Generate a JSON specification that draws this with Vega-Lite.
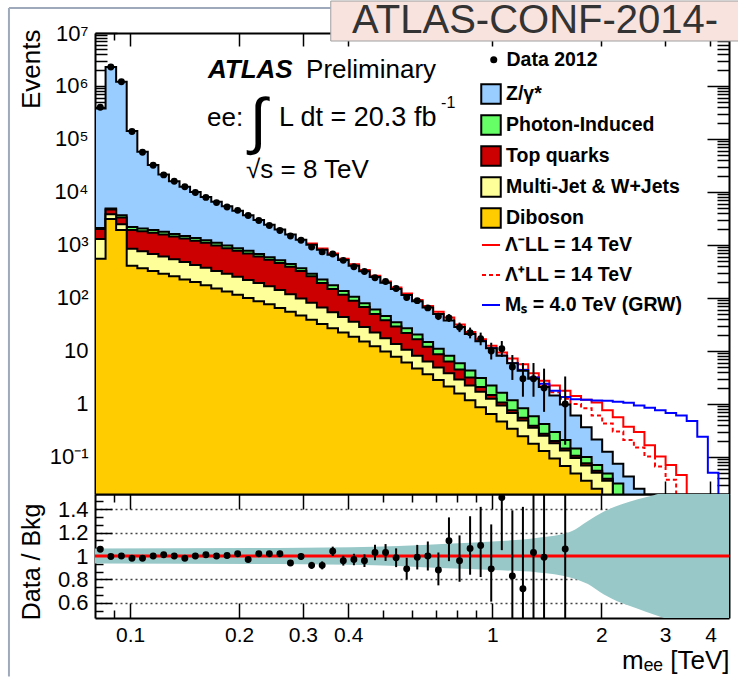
{
  "$schema": "https://vega.github.io/schema/vega-lite/v6.json",
  "padding": {"left": 7, "top": 0, "right": 0, "bottom": 0},
  "background": "white",
  "spacing": 0,
  "bounds": "flush",
  "config": {
    "font": "Liberation Sans",
    "view": {"stroke": null},
    "axis": {
      "zindex": 1, "domainColor": "black", "domainWidth": 2, "tickColor": "black", "tickWidth": 1.5,
      "labelColor": "black", "labelFont": "Liberation Sans", "labelFontSize": 22,
      "titleFont": "Liberation Sans", "titleFontWeight": "normal", "titleColor": "black", "titleFontSize": 26,
      "grid": false, "labelOverlap": false, "labelFlush": false, "labelBound": false
    },
    "legend": {"labelFont": "Liberation Sans", "labelFontSize": 19.5, "labelFontWeight": "bold", "labelColor": "black", "padding": 0, "labelLimit": 400}
  },
  "datasets": {
    "bins": [
      {"lo":0.08,"c":0.08273,"B":375000,"G":2090,"R":2000,"Y":1290,"O":550,"n":396000,"nlo":395400,"nhi":396600,"r":1.057,"rlo":1.055,"rhi":1.059},
      {"lo":0.08556,"c":0.08848,"B":2290000,"G":4900,"R":4680,"Y":3800,"O":3090,"n":2280000,"nlo":2278500,"nhi":2281500,"r":0.995,"rlo":0.994,"rhi":0.996},
      {"lo":0.0915,"c":0.09463,"B":1200000,"G":3630,"R":3310,"Y":2450,"O":1910,"n":1200000,"nlo":1198900,"nhi":1201100,"r":1.0,"rlo":0.999,"rhi":1.001},
      {"lo":0.09786,"c":0.1012,"B":141000,"G":2190,"R":1910,"Y":851,"O":407,"n":139000,"nlo":138600,"nhi":139400,"r":0.98,"rlo":0.977,"rhi":0.983},
      {"lo":0.1047,"c":0.1082,"B":57500,"G":2040,"R":1820,"Y":759,"O":363,"n":56000,"nlo":55760,"nhi":56240,"r":0.98,"rlo":0.976,"rhi":0.984},
      {"lo":0.1119,"c":0.1158,"B":32400,"G":1910,"R":1700,"Y":676,"O":324,"n":32000,"nlo":31820,"nhi":32180,"r":1.0,"rlo":0.994,"rhi":1.006},
      {"lo":0.1197,"c":0.1238,"B":21400,"G":1780,"R":1580,"Y":603,"O":288,"n":21000,"nlo":20855,"nhi":21145,"r":1.01,"rlo":1.003,"rhi":1.017},
      {"lo":0.128,"c":0.1324,"B":16000,"G":1620,"R":1450,"Y":537,"O":257,"n":16000,"nlo":15874,"nhi":16126,"r":1.0,"rlo":0.992,"rhi":1.008},
      {"lo":0.1369,"c":0.1416,"B":12600,"G":1480,"R":1320,"Y":479,"O":224,"n":12600,"nlo":12488,"nhi":12712,"r":0.98,"rlo":0.971,"rhi":0.989},
      {"lo":0.1464,"c":0.1514,"B":10000,"G":1350,"R":1200,"Y":417,"O":200,"n":9800,"nlo":9701,"nhi":9899,"r":1.0,"rlo":0.99,"rhi":1.01},
      {"lo":0.1566,"c":0.1619,"B":8040,"G":1230,"R":1100,"Y":372,"O":174,"n":7900,"nlo":7811,"nhi":7989,"r":1.01,"rlo":0.999,"rhi":1.021},
      {"lo":0.1675,"c":0.1732,"B":6530,"G":1100,"R":977,"Y":324,"O":151,"n":6300,"nlo":6221,"nhi":6379,"r":1.0,"rlo":0.987,"rhi":1.013},
      {"lo":0.1791,"c":0.1852,"B":5370,"G":977,"R":871,"Y":288,"O":132,"n":5200,"nlo":5128,"nhi":5272,"r":1.005,"rlo":0.991,"rhi":1.019},
      {"lo":0.1915,"c":0.1981,"B":4420,"G":871,"R":776,"Y":251,"O":115,"n":4500,"nlo":4433,"nhi":4567,"r":1.02,"rlo":1.005,"rhi":1.035},
      {"lo":0.2049,"c":0.2118,"B":3630,"G":776,"R":692,"Y":219,"O":100,"n":3600,"nlo":3540,"nhi":3660,"r":0.97,"rlo":0.954,"rhi":0.986},
      {"lo":0.2191,"c":0.2266,"B":2950,"G":676,"R":603,"Y":191,"O":87.1,"n":2900,"nlo":2846,"nhi":2954,"r":1.02,"rlo":1.001,"rhi":1.039},
      {"lo":0.2343,"c":0.2423,"B":2400,"G":589,"R":525,"Y":166,"O":75.9,"n":2340,"nlo":2292,"nhi":2388,"r":1.02,"rlo":0.999,"rhi":1.041},
      {"lo":0.2506,"c":0.2591,"B":1950,"G":513,"R":457,"Y":141,"O":64.6,"n":1880,"nlo":1837,"nhi":1923,"r":1.02,"rlo":0.996,"rhi":1.044},
      {"lo":0.268,"c":0.2771,"B":1570,"G":437,"R":389,"Y":117,"O":55.0,"n":1480,"nlo":1442,"nhi":1518,"r":0.94,"rlo":0.916,"rhi":0.964},
      {"lo":0.2866,"c":0.2964,"B":1260,"G":363,"R":324,"Y":97.7,"O":46.8,"n":1230,"nlo":1195,"nhi":1265,"r":0.995,"rlo":0.967,"rhi":1.023},
      {"lo":0.3065,"c":0.317,"B":1010,"G":288,"R":257,"Y":81.3,"O":38.9,"lm":1070,"n":912,"nlo":882,"nhi":942,"r":0.92,"rlo":0.89,"rhi":0.95},
      {"lo":0.3278,"c":0.339,"B":813,"G":224,"R":191,"Y":66.1,"O":32.4,"lm":862,"n":741,"nlo":714,"nhi":768,"r":0.92,"rlo":0.886,"rhi":0.954},
      {"lo":0.3506,"c":0.3625,"B":653,"G":174,"R":148,"Y":53.7,"O":26.9,"lm":692,"n":676,"nlo":650,"nhi":702,"r":1.04,"rlo":1.0,"rhi":1.08},
      {"lo":0.3749,"c":0.3877,"B":519,"G":135,"R":115,"Y":43.7,"O":22.4,"lm":550,"n":513,"nlo":490,"nhi":536,"r":0.96,"rlo":0.918,"rhi":1.002},
      {"lo":0.401,"c":0.4147,"B":407,"G":105,"R":89.1,"Y":35.5,"O":18.6,"lm":431,"n":389,"nlo":369,"nhi":409,"r":0.97,"rlo":0.921,"rhi":1.019},
      {"lo":0.4288,"c":0.4435,"B":320,"G":79.4,"R":67.6,"Y":28.2,"O":15.1,"lm":339,"n":316,"nlo":298,"nhi":334,"r":0.96,"rlo":0.906,"rhi":1.014},
      {"lo":0.4586,"c":0.4743,"B":248,"G":60.3,"R":50.1,"Y":22.4,"O":12.3,"lm":263,"n":240,"nlo":224.5,"nhi":255.5,"r":1.03,"rlo":0.964,"rhi":1.096},
      {"lo":0.4905,"c":0.5072,"B":193,"G":45.7,"R":38.0,"Y":17.4,"O":9.77,"lm":205,"n":204,"nlo":189.7,"nhi":218.3,"r":1.03,"rlo":0.958,"rhi":1.102},
      {"lo":0.5246,"c":0.5424,"B":148,"G":34.7,"R":28.8,"Y":13.5,"O":7.76,"lm":157,"n":151,"nlo":138.7,"nhi":163.3,"r":0.985,"rlo":0.905,"rhi":1.065},
      {"lo":0.561,"c":0.5801,"B":114,"G":26.9,"R":21.9,"Y":10.5,"O":6.03,"lm":121,"n":102,"nlo":91.9,"nhi":112.1,"r":0.89,"rlo":0.80,"rhi":0.985},
      {"lo":0.6,"c":0.6204,"B":87.1,"G":20.4,"R":16.6,"Y":8.13,"O":4.68,"lm":91.2,"n":89,"nlo":79.6,"nhi":98.4,"r":0.99,"rlo":0.885,"rhi":1.095},
      {"lo":0.6416,"c":0.6635,"B":66.1,"G":14.8,"R":12.0,"Y":6.31,"O":3.63,"lm":70.8,"n":65,"nlo":56.9,"nhi":73.1,"r":1.0,"rlo":0.876,"rhi":1.124},
      {"lo":0.6862,"c":0.7096,"B":50.1,"G":11.0,"R":8.71,"Y":4.90,"O":2.82,"lm":55.0,"n":45,"nlo":38.3,"nhi":52.7,"r":0.88,"rlo":0.749,"rhi":1.03},
      {"lo":0.7339,"c":0.7589,"B":37.6,"G":8.13,"R":6.31,"Y":3.80,"O":2.14,"lm":42.7,"n":42,"nlo":35.5,"nhi":49.5,"r":1.13,"rlo":0.956,"rhi":1.33},
      {"lo":0.7849,"c":0.8117,"B":28.2,"G":5.89,"R":4.47,"Y":2.88,"O":1.58,"lm":31.6,"n":28,"nlo":22.7,"nhi":34.3,"r":0.96,"rlo":0.78,"rhi":1.176},
      {"lo":0.8394,"c":0.868,"B":20.9,"G":4.27,"R":3.16,"Y":2.24,"O":1.17,"lm":22.9,"n":22,"nlo":17.3,"nhi":27.6,"r":1.065,"rlo":0.84,"rhi":1.34},
      {"lo":0.8977,"c":0.9283,"B":15.3,"G":3.09,"R":2.09,"Y":1.70,"O":0.871,"lm":16.6,"lp":15.3,"ms":15.3,"n":17,"nlo":12.8,"nhi":22.2,"r":1.09,"rlo":0.82,"rhi":1.42},
      {"lo":0.9601,"c":0.9928,"B":11.2,"G":2.24,"R":1.48,"Y":1.26,"O":0.646,"lm":12.6,"lp":11.2,"ms":11.2,"n":10,"nlo":6.9,"nhi":14.3,"r":0.89,"rlo":0.61,"rhi":1.27},
      {"lo":1.0268,"c":1.0618,"B":8.13,"G":1.62,"R":1.07,"Y":0.933,"O":0.468,"lm":9.33,"lp":8.13,"ms":8.13,"n":11,"nlo":7.7,"nhi":15.4,"r":1.5,"rlo":1.05,"rhi":2.1},
      {"lo":1.0981,"c":1.1355,"B":5.89,"G":1.17,"R":0.759,"Y":0.676,"O":0.339,"lm":7.24,"lp":5.89,"ms":5.89,"n":5,"nlo":2.84,"nhi":8.38,"r":0.83,"rlo":0.47,"rhi":1.39},
      {"lo":1.1744,"c":1.2144,"B":4.22,"G":0.832,"R":0.55,"Y":0.49,"O":0.245,"lm":5.62,"lp":4.42,"ms":4.37,"n":3,"nlo":1.37,"nhi":5.92,"r":0.72,"rlo":0.33,"rhi":1.42},
      {"lo":1.2559,"c":1.2988,"B":2.99,"G":0.589,"R":0.389,"Y":0.355,"O":0.178,"lm":3.80,"lp":3.16,"ms":3.16,"n":3,"nlo":1.37,"nhi":5.92,"r":1.03,"rlo":0.47,"rhi":2.03},
      {"lo":1.3432,"c":1.389,"B":2.09,"G":0.417,"R":0.275,"Y":0.251,"O":0.129,"lm":2.75,"lp":2.29,"ms":2.40,"n":2,"nlo":0.71,"nhi":4.64,"r":0.99,"rlo":0.35,"rhi":2.3},
      {"lo":1.4365,"c":1.4855,"B":1.45,"G":0.295,"R":0.2,"Y":0.182,"O":0.0933,"lm":2.24,"lp":1.66,"ms":1.78},
      {"lo":1.5363,"c":1.5887,"B":0.977,"G":0.209,"R":0.145,"Y":0.132,"O":0.0676,"lm":1.78,"lp":1.26,"ms":1.35,"n":1,"nlo":0.17,"nhi":3.3,"r":1.06,"rlo":0.18,"rhi":3.5},
      {"lo":1.643,"B":0.603,"G":0.145,"R":0.105,"Y":0.0955,"O":0.049,"lm":1.41,"lp":1.0,"ms":1.23},
      {"lo":1.7572,"B":0.363,"G":0.1,"R":0.0759,"Y":0.0692,"O":0.0355,"lm":1.2,"lp":0.832,"ms":1.2},
      {"lo":1.8792,"B":0.214,"G":0.0708,"R":0.055,"Y":0.0501,"O":0.0251,"lm":1.07,"lp":0.603,"ms":1.16},
      {"lo":2.0098,"B":0.126,"G":0.049,"R":0.0389,"Y":0.0355,"O":0.001,"lm":0.759,"lp":0.427,"ms":1.15},
      {"lo":2.1494,"B":0.0741,"G":0.0316,"R":0.001,"Y":0.001,"O":0.001,"lm":0.562,"lp":0.302,"ms":1.1},
      {"lo":2.2987,"B":0.0427,"G":0.001,"R":0.001,"Y":0.001,"O":0.001,"lm":0.372,"lp":0.209,"ms":1.05},
      {"lo":2.4584,"B":0.0251,"G":0.001,"R":0.001,"Y":0.001,"O":0.001,"lm":0.295,"lp":0.151,"ms":0.933},
      {"lo":2.6292,"B":0.001,"G":0.001,"R":0.001,"Y":0.001,"O":0.001,"lm":0.166,"lp":0.102,"ms":0.851},
      {"lo":2.8118,"B":0.001,"G":0.001,"R":0.001,"Y":0.001,"O":0.001,"lm":0.102,"lp":0.0661,"ms":0.759},
      {"lo":3.0072,"B":0.001,"G":0.001,"R":0.001,"Y":0.001,"O":0.001,"lm":0.0708,"lp":0.0372,"ms":0.676},
      {"lo":3.2161,"B":0.001,"G":0.001,"R":0.001,"Y":0.001,"O":0.001,"lm":0.0457,"lp":0.001,"ms":0.603},
      {"lo":3.4394,"B":0.001,"G":0.001,"R":0.001,"Y":0.001,"O":0.001,"lm":0.001,"lp":0.001,"ms":0.479},
      {"lo":3.6784,"B":0.001,"G":0.001,"R":0.001,"Y":0.001,"O":0.001,"lm":0.001,"lp":0.001,"ms":0.24},
      {"lo":3.9339,"B":0.001,"G":0.001,"R":0.001,"Y":0.001,"O":0.001,"lm":0.001,"lp":0.001,"ms":0.0501},
      {"lo":4.2072,"B":0.001,"G":0.001,"R":0.001,"Y":0.001,"O":0.001,"lm":0.001,"lp":0.001,"ms":0.001}
    ],
    "band": [
      {"m":0.08,"lo":0.935,"hi":1.065},
      {"m":0.3,"lo":0.93,"hi":1.07},
      {"m":0.55,"lo":0.915,"hi":1.085},
      {"m":0.75,"lo":0.895,"hi":1.105},
      {"m":1.0,"lo":0.88,"hi":1.125},
      {"m":1.336,"lo":0.86,"hi":1.155},
      {"m":1.648,"lo":0.815,"hi":1.21},
      {"m":1.836,"lo":0.76,"hi":1.3},
      {"m":2.032,"lo":0.67,"hi":1.38},
      {"m":2.264,"lo":0.6,"hi":1.44},
      {"m":2.52,"lo":0.55,"hi":1.485},
      {"m":2.79,"lo":0.5,"hi":1.52},
      {"m":3.01,"lo":0.465,"hi":1.55},
      {"m":3.5,"lo":0.4,"hi":1.62},
      {"m":4.5,"lo":0.3,"hi":1.75}
    ]
  },
  "vconcat": [
    {
      "width": 634,
      "height": 461,
      "resolve": {"axis": {"x": "independent", "y": "independent"}},
      "layer": [
        {
          "data": {"name": "bins"},
          "transform": [{"fold": ["lm", "lp", "ms"], "as": ["sig", "v"]}],
          "mark": {"type": "line", "interpolate": "step-after", "strokeWidth": 2, "clip": true},
          "encoding": {
            "x": {"field": "lo", "type": "quantitative", "scale": {"type": "log", "domain": [0.08, 4.5], "nice": false}, "axis": null},
            "y": {"field": "v", "type": "quantitative", "scale": {"type": "log", "domain": [0.02, 10000000], "nice": false}, "axis": null},
            "stroke": {"field": "sig", "type": "nominal", "scale": {"domain": ["lm", "lp", "ms"], "range": ["#ff0000", "#ff0000", "#0000ff"]},
              "legend": {"orient": "none", "legendX": 386, "legendY": 202, "title": null, "symbolType": "stroke", "symbolSize": 324, "symbolStrokeWidth": 2, "rowPadding": 10, "labelOffset": 4,
                "labelExpr": "datum.value == 'lm' ? 'Λ⁻LL = 14 TeV' : datum.value == 'lp' ? 'Λ⁺LL = 14 TeV' : 'Mₛ = 4.0 TeV (GRW)'"}},
            "strokeDash": {"field": "sig", "type": "nominal", "scale": {"domain": ["lm", "lp", "ms"], "range": [[1, 0], [4, 3], [1, 0]]},
              "legend": {"orient": "none", "legendX": 386, "legendY": 202, "title": null, "symbolType": "stroke", "symbolSize": 324, "symbolStrokeWidth": 2, "rowPadding": 10, "labelOffset": 4,
                "labelExpr": "datum.value == 'lm' ? 'Λ⁻LL = 14 TeV' : datum.value == 'lp' ? 'Λ⁺LL = 14 TeV' : 'Mₛ = 4.0 TeV (GRW)'"}}
          }
        },
        {
          "data": {"name": "bins"},
          "mark": {"type": "area", "interpolate": "step-after", "stroke": "black", "strokeWidth": 2, "clip": true},
          "encoding": {
            "x": {"field": "lo", "type": "quantitative", "scale": {"type": "log", "domain": [0.08, 4.5], "nice": false},
              "axis": {"orient": "bottom", "values": [0.09,0.1,0.2,0.3,0.4,0.5,0.6,0.7,0.8,0.9,1,2,3,4], "labels": false, "title": null,
                "tickSize": {"condition": {"test": "indexof([0.1,0.2,0.3,0.4,1,2,3,4], datum.value) >= 0", "value": -13}, "value": -7}}},
            "y": {"field": "B", "type": "quantitative", "scale": {"type": "log", "domain": [0.02, 10000000], "nice": false},
              "axis": {"orient": "left",
                "values": [0.03,0.04,0.05,0.06,0.07,0.08,0.09,0.1,0.2,0.3,0.4,0.5,0.6,0.7,0.8,0.9,1,2,3,4,5,6,7,8,9,10,20,30,40,50,60,70,80,90,100,200,300,400,500,600,700,800,900,1000,2000,3000,4000,5000,6000,7000,8000,9000,10000,20000,30000,40000,50000,60000,70000,80000,90000,100000,200000,300000,400000,500000,600000,700000,800000,900000,1000000,2000000,3000000,4000000,5000000,6000000,7000000,8000000,9000000,10000000],
                "labelExpr": "datum.value == 0.1 ? '10⁻¹' : datum.value == 1 ? '1' : datum.value == 10 ? '10' : datum.value == 100 ? '10²' : datum.value == 1000 ? '10³' : datum.value == 10000 ? '10⁴' : datum.value == 100000 ? '10⁵' : datum.value == 1000000 ? '10⁶' : datum.value == 10000000 ? '10⁷' : ''",
                "tickSize": {"condition": {"test": "indexof([0.1,1,10,100,1000,10000,100000,1000000,10000000], datum.value) >= 0", "value": -22}, "value": -12},
                "labelPadding": 29,
                "title": "Events", "titleAngle": -90, "titleX": -51, "titleY": -4, "titleAlign": "right", "titleBaseline": "bottom"}},
            "y2": {"datum": 0.0001},
            "fill": {"datum": "Z/γ*", "type": "nominal",
              "scale": {"domain": ["Z/γ*", "Photon-Induced", "Top quarks", "Multi-Jet & W+Jets", "Diboson"], "range": ["#99ccff", "#66ff66", "#cc0000", "#ffff99", "#ffcc00"]},
              "legend": {"orient": "none", "legendX": 385, "legendY": 50, "title": null, "symbolType": "square", "symbolSize": 380, "symbolStrokeColor": "black", "symbolStrokeWidth": 2, "rowPadding": 3, "labelOffset": 4}}
          }
        },
        {
          "data": {"name": "bins"},
          "mark": {"type": "area", "interpolate": "step-after", "stroke": "black", "strokeWidth": 2, "clip": true},
          "encoding": {
            "x": {"field": "lo", "type": "quantitative", "scale": {"type": "log", "domain": [0.08, 4.5], "nice": false},
              "axis": {"orient": "top", "values": [0.09,0.1,0.2,0.3,0.4,0.5,0.6,0.7,0.8,0.9,1,2,3,4], "labels": false, "title": null,
                "tickSize": {"condition": {"test": "indexof([0.1,0.2,0.3,0.4,1,2,3,4], datum.value) >= 0", "value": -13}, "value": -7}}},
            "y": {"field": "G", "type": "quantitative", "scale": {"type": "log", "domain": [0.02, 10000000], "nice": false},
              "axis": {"orient": "right",
                "values": [0.03,0.04,0.05,0.06,0.07,0.08,0.09,0.1,0.2,0.3,0.4,0.5,0.6,0.7,0.8,0.9,1,2,3,4,5,6,7,8,9,10,20,30,40,50,60,70,80,90,100,200,300,400,500,600,700,800,900,1000,2000,3000,4000,5000,6000,7000,8000,9000,10000,20000,30000,40000,50000,60000,70000,80000,90000,100000,200000,300000,400000,500000,600000,700000,800000,900000,1000000,2000000,3000000,4000000,5000000,6000000,7000000,8000000,9000000,10000000],
                "labels": false, "title": null,
                "tickSize": {"condition": {"test": "indexof([0.1,1,10,100,1000,10000,100000,1000000,10000000], datum.value) >= 0", "value": -22}, "value": -12}}},
            "y2": {"datum": 0.0001},
            "fill": {"datum": "Photon-Induced", "type": "nominal"}
          }
        },
        {
          "data": {"name": "bins"},
          "mark": {"type": "area", "interpolate": "step-after", "stroke": "black", "strokeWidth": 2, "clip": true},
          "encoding": {
            "x": {"field": "lo", "type": "quantitative", "scale": {"type": "log", "domain": [0.08, 4.5], "nice": false}, "axis": null},
            "y": {"field": "R", "type": "quantitative", "scale": {"type": "log", "domain": [0.02, 10000000], "nice": false}, "axis": null},
            "y2": {"datum": 0.0001},
            "fill": {"datum": "Top quarks", "type": "nominal"}
          }
        },
        {
          "data": {"name": "bins"},
          "mark": {"type": "area", "interpolate": "step-after", "stroke": "black", "strokeWidth": 2, "clip": true},
          "encoding": {
            "x": {"field": "lo", "type": "quantitative", "scale": {"type": "log", "domain": [0.08, 4.5], "nice": false}, "axis": null},
            "y": {"field": "Y", "type": "quantitative", "scale": {"type": "log", "domain": [0.02, 10000000], "nice": false}, "axis": null},
            "y2": {"datum": 0.0001},
            "fill": {"datum": "Multi-Jet & W+Jets", "type": "nominal"}
          }
        },
        {
          "data": {"name": "bins"},
          "mark": {"type": "area", "interpolate": "step-after", "stroke": "black", "strokeWidth": 2, "clip": true},
          "encoding": {
            "x": {"field": "lo", "type": "quantitative", "scale": {"type": "log", "domain": [0.08, 4.5], "nice": false}, "axis": null},
            "y": {"field": "O", "type": "quantitative", "scale": {"type": "log", "domain": [0.02, 10000000], "nice": false}, "axis": null},
            "y2": {"datum": 0.0001},
            "fill": {"datum": "Diboson", "type": "nominal"}
          }
        },
        {
          "data": {"name": "bins"},
          "mark": {"type": "rule", "color": "black", "strokeWidth": 2, "clip": true},
          "encoding": {
            "x": {"field": "c", "type": "quantitative", "scale": {"type": "log", "domain": [0.08, 4.5], "nice": false}, "axis": null},
            "y": {"field": "nlo", "type": "quantitative", "scale": {"type": "log", "domain": [0.02, 10000000], "nice": false}, "axis": null},
            "y2": {"field": "nhi"}
          }
        },
        {
          "data": {"name": "bins"},
          "mark": {"type": "point", "filled": true, "size": 48, "opacity": 1, "color": "black", "clip": true},
          "encoding": {
            "x": {"field": "c", "type": "quantitative", "scale": {"type": "log", "domain": [0.08, 4.5], "nice": false}, "axis": null},
            "y": {"field": "n", "type": "quantitative", "scale": {"type": "log", "domain": [0.02, 10000000], "nice": false}, "axis": null},
            "shape": {"datum": "Data 2012", "type": "nominal", "scale": {"domain": ["Data 2012"], "range": ["circle"]},
              "legend": {"orient": "none", "legendX": 389, "legendY": 17, "title": null, "symbolSize": 50, "symbolFillColor": "black", "symbolStrokeColor": "black", "labelOffset": 3}}
          }
        },
        {
          "data": {"values": [{}]},
          "mark": {"type": "text", "text": "ATLAS", "align": "left", "baseline": "alphabetic", "fontSize": 26, "fontStyle": "italic", "fontWeight": "bold", "color": "black"},
          "encoding": {
            "x": {"datum": 0.164, "type": "quantitative", "scale": {"type": "log", "domain": [0.08, 4.5], "nice": false}, "axis": null},
            "y": {"datum": 1420000, "type": "quantitative", "scale": {"type": "log", "domain": [0.02, 10000000], "nice": false}, "axis": null}
          }
        },
        {
          "data": {"values": [{}]},
          "mark": {"type": "text", "text": "Preliminary", "align": "left", "baseline": "alphabetic", "fontSize": 26, "color": "black"},
          "encoding": {
            "x": {"datum": 0.306, "type": "quantitative", "scale": {"type": "log", "domain": [0.08, 4.5], "nice": false}, "axis": null},
            "y": {"datum": 1420000, "type": "quantitative", "scale": {"type": "log", "domain": [0.02, 10000000], "nice": false}, "axis": null}
          }
        },
        {
          "data": {"values": [{}]},
          "mark": {"type": "text", "text": "ee:", "align": "left", "baseline": "alphabetic", "fontSize": 26, "color": "black"},
          "encoding": {
            "x": {"datum": 0.163, "type": "quantitative", "scale": {"type": "log", "domain": [0.08, 4.5], "nice": false}, "axis": null},
            "y": {"datum": 177000, "type": "quantitative", "scale": {"type": "log", "domain": [0.02, 10000000], "nice": false}, "axis": null}
          }
        },
        {
          "data": {"values": [{}]},
          "mark": {"type": "text", "text": "∫", "align": "center", "baseline": "middle", "fontSize": 62, "color": "black"},
          "encoding": {
            "x": {"datum": 0.2254, "type": "quantitative", "scale": {"type": "log", "domain": [0.08, 4.5], "nice": false}, "axis": null},
            "y": {"datum": 200000, "type": "quantitative", "scale": {"type": "log", "domain": [0.02, 10000000], "nice": false}, "axis": null}
          }
        },
        {
          "data": {"values": [{}]},
          "mark": {"type": "text", "text": "L dt = 20.3 fb", "align": "left", "baseline": "alphabetic", "fontSize": 27, "color": "black"},
          "encoding": {
            "x": {"datum": 0.2577, "type": "quantitative", "scale": {"type": "log", "domain": [0.08, 4.5], "nice": false}, "axis": null},
            "y": {"datum": 177000, "type": "quantitative", "scale": {"type": "log", "domain": [0.02, 10000000], "nice": false}, "axis": null}
          }
        },
        {
          "data": {"values": [{}]},
          "mark": {"type": "text", "text": "-1", "align": "left", "baseline": "alphabetic", "fontSize": 16, "color": "black"},
          "encoding": {
            "x": {"datum": 0.722, "type": "quantitative", "scale": {"type": "log", "domain": [0.08, 4.5], "nice": false}, "axis": null},
            "y": {"datum": 387000, "type": "quantitative", "scale": {"type": "log", "domain": [0.02, 10000000], "nice": false}, "axis": null}
          }
        },
        {
          "data": {"values": [{}]},
          "mark": {"type": "text", "text": "√s = 8 TeV", "align": "left", "baseline": "alphabetic", "fontSize": 26, "color": "black"},
          "encoding": {
            "x": {"datum": 0.2089, "type": "quantitative", "scale": {"type": "log", "domain": [0.08, 4.5], "nice": false}, "axis": null},
            "y": {"datum": 18600, "type": "quantitative", "scale": {"type": "log", "domain": [0.02, 10000000], "nice": false}, "axis": null}
          }
        },
        {
          "data": {"values": [{}]},
          "mark": {"type": "rect", "fill": "#f8e3df", "stroke": "#a0a0a0", "strokeWidth": 1, "clip": false},
          "encoding": {
            "x": {"datum": 0.358, "type": "quantitative", "scale": {"type": "log", "domain": [0.08, 4.5], "nice": false}, "axis": null},
            "x2": {"datum": 4.79},
            "y": {"datum": 40100000, "type": "quantitative", "scale": {"type": "log", "domain": [0.02, 10000000], "nice": false}, "axis": null},
            "y2": {"datum": 7060000}
          }
        },
        {
          "data": {"values": [{}]},
          "mark": {"type": "text", "text": "ATLAS-CONF-2014-", "align": "left", "baseline": "alphabetic", "fontSize": 40, "color": "#333333"},
          "encoding": {
            "x": {"datum": 0.41, "type": "quantitative", "scale": {"type": "log", "domain": [0.08, 4.5], "nice": false}, "axis": null},
            "y": {"datum": 10200000, "type": "quantitative", "scale": {"type": "log", "domain": [0.02, 10000000], "nice": false}, "axis": null}
          }
        },
        {
          "data": {"values": [{}]},
          "mark": {"type": "rule", "color": "#9eaabb", "strokeWidth": 2, "clip": false},
          "encoding": {
            "x": {"datum": 0.0463, "type": "quantitative", "scale": {"type": "log", "domain": [0.08, 4.5], "nice": false}, "axis": null},
            "y": {"datum": 29600000, "type": "quantitative", "scale": {"type": "log", "domain": [0.02, 10000000], "nice": false}, "axis": null},
            "y2": {"datum": 0.02}
          }
        },
        {
          "data": {"values": [{}]},
          "mark": {"type": "rule", "color": "#9eaabb", "strokeWidth": 2, "clip": false},
          "encoding": {
            "x": {"datum": 0.0463, "type": "quantitative", "scale": {"type": "log", "domain": [0.08, 4.5], "nice": false}, "axis": null},
            "x2": {"datum": 0.358},
            "y": {"datum": 29600000, "type": "quantitative", "scale": {"type": "log", "domain": [0.02, 10000000], "nice": false}, "axis": null}
          }
        }
      ]
    },
    {
      "width": 634,
      "height": 124,
      "resolve": {"axis": {"x": "independent", "y": "independent"}},
      "layer": [
        {
          "data": {"name": "band"},
          "mark": {"type": "area", "interpolate": "monotone", "color": "#98c8c8", "opacity": 1, "clip": true},
          "encoding": {
            "x": {"field": "m", "type": "quantitative", "scale": {"type": "log", "domain": [0.08, 4.5], "nice": false},
              "axis": {"orient": "bottom", "values": [0.09,0.1,0.2,0.3,0.4,0.5,0.6,0.7,0.8,0.9,1,2,3,4],
                "labelExpr": "indexof([0.1,0.2,0.3,0.4,1,2,3,4], datum.value) >= 0 ? format(datum.value, '~g') : ''",
                "tickSize": {"condition": {"test": "indexof([0.1,0.2,0.3,0.4,1,2,3,4], datum.value) >= 0", "value": -15}, "value": -8},
                "labelPadding": 21, "labelFontSize": 21,
                "title": "mₑₑ [TeV]", "titleFontSize": 26, "titleX": 634, "titleY": 50, "titleAlign": "right", "titleBaseline": "alphabetic"}},
            "y": {"field": "lo", "type": "quantitative", "scale": {"type": "linear", "domain": [0.47, 1.53], "nice": false, "zero": false},
              "axis": {"orient": "left", "values": [0.5333,0.6,0.6667,0.7333,0.8,0.8667,0.9333,1,1.0667,1.1333,1.2,1.2667,1.3333,1.4,1.4667],
                "labelExpr": "indexof([0.6,0.8,1,1.2,1.4], datum.value) >= 0 ? format(datum.value, '~g') : ''",
                "tickSize": {"condition": {"test": "indexof([0.6,0.8,1,1.2,1.4], datum.value) >= 0", "value": -17}, "value": -8},
                "labelPadding": 24,
                "grid": true, "gridDash": [2, 3], "gridColor": "#444444", "gridWidth": 1.5,
                "gridOpacity": {"condition": {"test": "indexof([0.6,0.8,1.2,1.4], datum.value) >= 0", "value": 1}, "value": 0},
                "title": "Data / Bkg", "titleFontSize": 25, "titleAngle": -90, "titleX": -51, "titleY": 9, "titleAlign": "right", "titleBaseline": "bottom"}},
            "y2": {"field": "hi"}
          }
        },
        {
          "data": {"values": [{}]},
          "mark": {"type": "rule", "color": "#ff0000", "strokeWidth": 3},
          "encoding": {
            "y": {"datum": 1, "type": "quantitative", "scale": {"type": "linear", "domain": [0.47, 1.53], "nice": false, "zero": false}, "axis": null}
          }
        },
        {
          "data": {"name": "bins"},
          "mark": {"type": "rule", "color": "black", "strokeWidth": 2, "clip": true},
          "encoding": {
            "x": {"field": "c", "type": "quantitative", "scale": {"type": "log", "domain": [0.08, 4.5], "nice": false},
              "axis": {"orient": "top", "values": [0.09,0.1,0.2,0.3,0.4,0.5,0.6,0.7,0.8,0.9,1,2,3,4], "labels": false, "title": null,
                "tickSize": {"condition": {"test": "indexof([0.1,0.2,0.3,0.4,1,2,3,4], datum.value) >= 0", "value": -15}, "value": -8}}},
            "y": {"field": "rlo", "type": "quantitative", "scale": {"type": "linear", "domain": [0.47, 1.53], "nice": false, "zero": false},
              "axis": {"orient": "right", "values": [0.5333,0.6,0.6667,0.7333,0.8,0.8667,0.9333,1,1.0667,1.1333,1.2,1.2667,1.3333,1.4,1.4667], "labels": false, "title": null,
                "tickSize": {"condition": {"test": "indexof([0.6,0.8,1,1.2,1.4], datum.value) >= 0", "value": -17}, "value": -8}}},
            "y2": {"field": "rhi"}
          }
        },
        {
          "data": {"name": "bins"},
          "mark": {"type": "circle", "size": 48, "color": "black", "opacity": 1, "clip": true},
          "encoding": {
            "x": {"field": "c", "type": "quantitative", "scale": {"type": "log", "domain": [0.08, 4.5], "nice": false}, "axis": null},
            "y": {"field": "r", "type": "quantitative", "scale": {"type": "linear", "domain": [0.47, 1.53], "nice": false, "zero": false}, "axis": null}
          }
        },
        {
          "data": {"values": [{}]},
          "mark": {"type": "rule", "color": "#9eaabb", "strokeWidth": 2, "clip": false},
          "encoding": {
            "x": {"datum": 0.0463, "type": "quantitative", "scale": {"type": "log", "domain": [0.08, 4.5], "nice": false}, "axis": null},
            "y": {"datum": 1.53, "type": "quantitative", "scale": {"type": "linear", "domain": [0.47, 1.53], "nice": false, "zero": false}, "axis": null},
            "y2": {"datum": -0.03}
          }
        }
      ]
    }
  ],
  "resolve": {"scale": {"fill": "independent", "shape": "independent", "stroke": "independent", "strokeDash": "independent"}}
}
